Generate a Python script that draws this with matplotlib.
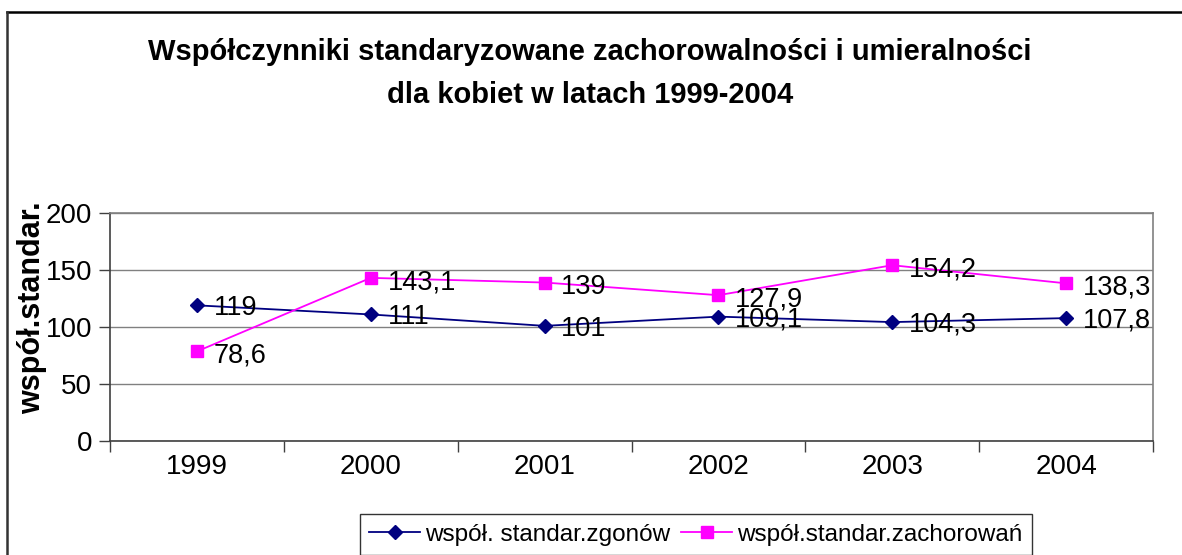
import matplotlib
matplotlib.use("Agg")
import matplotlib.pyplot as plt
from matplotlib.lines import Line2D

years = ["1999", "2000", "2001", "2002", "2003", "2004"]
zgonow = [119, 111, 101, 109.1, 104.3, 107.8]
zachorowan = [78.6, 143.1, 139, 127.9, 154.2, 138.3]
zgonow_labels = ["119", "111", "101", "109,1", "104,3", "107,8"]
zachorowan_labels = ["78,6", "143,1", "139", "127,9", "154,2", "138,3"]
series_names = ["współ. standar.zgonów", "współ.standar.zachorowań"]
yticks = [0, 50, 100, 150, 200]

plt.rcParams['font.family'] = ['Liberation Sans', 'DejaVu Sans']

W, H = 1182, 555
fig = plt.figure(figsize=(W / 100, H / 100), dpi=100)
ax = fig.add_axes([110 / W, 1 - 441 / H, 1043 / W, 228 / H])

x = list(range(len(years)))
ax.plot(x, zgonow, color="#000080", marker="D", markersize=7, linewidth=1.3,
        label=series_names[0], zorder=3)
ax.plot(x, zachorowan, color="#FF00FF", marker="s", markersize=8, linewidth=1.3,
        label=series_names[1], zorder=3)

for xi, v, t in zip(x, zgonow, zgonow_labels):
    ax.annotate(t, (xi, v), xytext=(12, -2), textcoords="offset points",
                ha="left", va="center", fontsize=19.5, zorder=4)
for xi, v, t in zip(x, zachorowan, zachorowan_labels):
    ax.annotate(t, (xi, v), xytext=(12, -3), textcoords="offset points",
                ha="left", va="center", fontsize=19.5, zorder=4)

ax.set_xlim(-0.5, len(years) - 0.5)
ax.set_ylim(0, 200)
ax.set_yticks(yticks)
ax.set_yticklabels([str(t) for t in yticks], fontsize=20)
ax.set_xticks(x)
ax.set_xticklabels(years, fontsize=20)
ax.set_xticks([i - 0.5 for i in range(len(years) + 1)], minor=True)
ax.tick_params(axis="x", which="major", length=0, pad=9)
ax.tick_params(axis="x", which="minor", length=8, width=1, color="#404040", direction="out")
ax.tick_params(axis="y", length=8, width=1, color="#404040", direction="out", pad=5)

ax.grid(axis="y", color="#808080", linewidth=1)
ax.set_axisbelow(True)
for side in ["top", "right"]:
    ax.spines[side].set_color("#808080")
    ax.spines[side].set_linewidth(1.2)
for side in ["left", "bottom"]:
    ax.spines[side].set_color("#404040")
    ax.spines[side].set_linewidth(1.2)

fig.text(32 / W, 1 - 308 / H, "współ.standar.", rotation=90, ha="center", va="center",
         fontsize=22, fontweight="bold")

fig.text(590 / W, 1 - 52 / H, "Współczynniki standaryzowane zachorowalności i umieralności",
         ha="center", va="center", fontsize=21, fontweight="bold")
fig.text(590 / W, 1 - 95 / H, "dla kobiet w latach 1999-2004",
         ha="center", va="center", fontsize=21, fontweight="bold")

leg = fig.legend(loc="upper center", bbox_to_anchor=(696 / W, 1 - 514 / H), ncol=2,
                 fontsize=17.5, frameon=True, fancybox=False, edgecolor="black",
                 handlelength=2.1, handletextpad=0.2, columnspacing=0.45,
                 borderpad=0.4, borderaxespad=0)
leg.get_frame().set_linewidth(1)

fig.add_artist(Line2D([7 / W, 1], [1 - 12 / H, 1 - 12 / H], transform=fig.transFigure,
                      color="black", linewidth=1.8))
fig.add_artist(Line2D([7 / W, 7 / W], [0, 1 - 12 / H], transform=fig.transFigure,
                      color="#333333", linewidth=1.8))

fig.savefig("out.png", dpi=100)
